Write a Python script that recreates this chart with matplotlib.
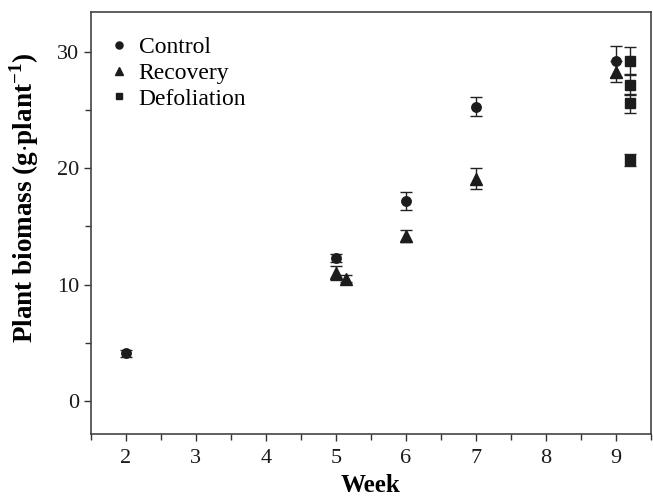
import matplotlib
matplotlib.use("Agg")
import matplotlib.pyplot as plt
from matplotlib.ticker import MultipleLocator

# biomass means and standard errors per treatment
control_weeks = [2, 5, 6, 7, 9]
control = [4.1, 12.3, 17.2, 25.3, 29.2]
control_err = [0.3, 0.35, 0.8, 0.8, 1.3]

recovery_weeks = [5, 5.15, 6, 7, 9]
recovery = [11.0, 10.5, 14.2, 19.1, 28.3]
recovery_err = [0.6, 0.3, 0.5, 0.9, 0.9]

defol_weeks = [9.2, 9.2, 9.2, 9.2]
defol = [29.2, 27.2, 25.6, 20.7]
defol_err = [1.2, 0.9, 0.8, 0.5]

plt.rcParams['font.family'] = ['Liberation Serif', 'DejaVu Serif']
plt.rcParams['mathtext.fontset'] = 'custom'
plt.rcParams['mathtext.rm'] = 'Liberation Serif'
plt.rcParams['mathtext.bf'] = 'Liberation Serif:bold'

fig = plt.figure(figsize=(6.53, 5.0), dpi=100)
ax = fig.add_axes([0.139, 0.132, 0.858, 0.844])

mcol = '#1c1c1c'
eb = dict(ls='none', ecolor='#222222', elinewidth=1.0, capsize=4, capthick=1.0,
          mfc=mcol, mec=mcol)
ax.errorbar(control_weeks, control, yerr=control_err, marker='o', ms=6.8,
            label='Control', **eb)
ax.errorbar(recovery_weeks, recovery, yerr=recovery_err, marker='^', ms=8,
            label='Recovery', **eb)
ax.errorbar(defol_weeks, defol, yerr=defol_err, marker='s', ms=6.5,
            label='Defoliation', **eb)

ax.set_xlim(1.5, 9.5)
ax.set_ylim(-2.85, 33.45)
ax.xaxis.set_major_locator(MultipleLocator(1))
ax.xaxis.set_minor_locator(MultipleLocator(0.5))
ax.yaxis.set_major_locator(MultipleLocator(10))
ax.yaxis.set_minor_locator(MultipleLocator(5))
ax.tick_params(which='both', direction='out', colors='#333333', labelcolor='#1a1a1a',
               labelsize=16, width=1.0)
ax.tick_params(which='major', length=5)
ax.tick_params(which='minor', length=4)
ax.tick_params(axis='x', pad=6)
for s in ax.spines.values():
    s.set_color('#444444')
    s.set_linewidth(1.2)

ax.set_xlabel('Week', fontsize=18, fontweight='bold', labelpad=4)
ax.set_ylabel(r'Plant biomass (g$\mathbf{\cdot}$plant$^{\mathbf{-1}}$)', fontsize=19.5,
              fontweight='bold')
ax.yaxis.set_label_coords(-0.089, 0.56)

handles, labels = ax.get_legend_handles_labels()
handles = [h[0] for h in handles]
leg = ax.legend(handles, labels, loc='upper left', bbox_to_anchor=(0.014, 0.964),
                frameon=False, fontsize=17, handlelength=0.9, handletextpad=0.4,
                labelspacing=0.18, borderaxespad=0, markerscale=0.75)

fig.savefig('out.png', dpi=100)
